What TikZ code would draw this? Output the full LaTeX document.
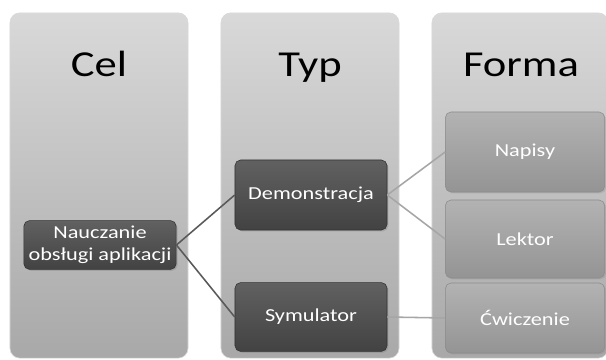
\documentclass[tikz,border=0pt]{standalone}
\usepackage{fontspec}
\setmainfont{Carlito}[FakeStretch=1.22]
\usetikzlibrary{positioning,shadows}

\begin{document}
\begin{tikzpicture}[x=0.025cm, y=-0.025cm, font=\fontsize{13}{16}\selectfont,
    colbox/.style={rounded corners=7pt, top color=black!15, bottom color=black!34, draw=white!85!black, minimum width=4.45cm, minimum height=8.63cm},
    darkbox/.style={rounded corners=4pt, top color=black!62, bottom color=black!74, draw=black!80, text=white, align=center, minimum width=3.8cm, drop shadow={opacity=0.35, shadow xshift=1pt, shadow yshift=-1pt}},
    lightbox/.style={rounded corners=4pt, top color=black!30, bottom color=black!42, draw=black!45, text=white, align=center, minimum width=3.98cm, drop shadow={opacity=0.25, shadow xshift=1pt, shadow yshift=-1pt}},
    title/.style={anchor=base, font=\fontsize{26}{30}\selectfont}]
    \useasboundingbox[fill=white] (0,0) rectangle (606,360);
    % three columns
    \node[colbox] (colcel) at (99,185.5) {};
    \node[colbox] (coltyp) at (310,185.5) {};
    \node[colbox, minimum width=4.4cm] (colforma) at (520,185.5) {};
    \node[title] (tcel) at (99,77) {Cel};
    \node[title] (ttyp) at (310,77) {Typ};
    \node[title] (tforma) at (521,77) {Forma};
    % boxes
    \node[darkbox, minimum height=1.22cm] (nauka) at (100,245) {Nauczanie\\obsługi aplikacji};
    \node[darkbox, minimum height=1.75cm] (demo) at (311,195) {Demonstracja};
    \node[darkbox, minimum height=1.72cm] (sym) at (311,317) {Symulator};
    \node[lightbox, minimum height=2.0cm] (napisy) at (525,152) {Napisy};
    \node[lightbox, minimum height=1.95cm] (lektor) at (525,239) {Lektor};
    \node[lightbox, minimum height=1.75cm] (cwicz) at (525,318) {Ćwiczenie};
    % links
    \draw[black!65, line width=1.1pt] (nauka.east) -- (demo.west);
    \draw[black!65, line width=1.1pt] (nauka.east) -- (sym.west);
    \draw[black!35, line width=1.1pt] (demo.east) -- (napisy.west);
    \draw[black!35, line width=1.1pt] (demo.east) -- (lektor.west);
    \draw[black!35, line width=1.1pt] (sym.east) -- (cwicz.west);
\end{tikzpicture}
\end{document}
